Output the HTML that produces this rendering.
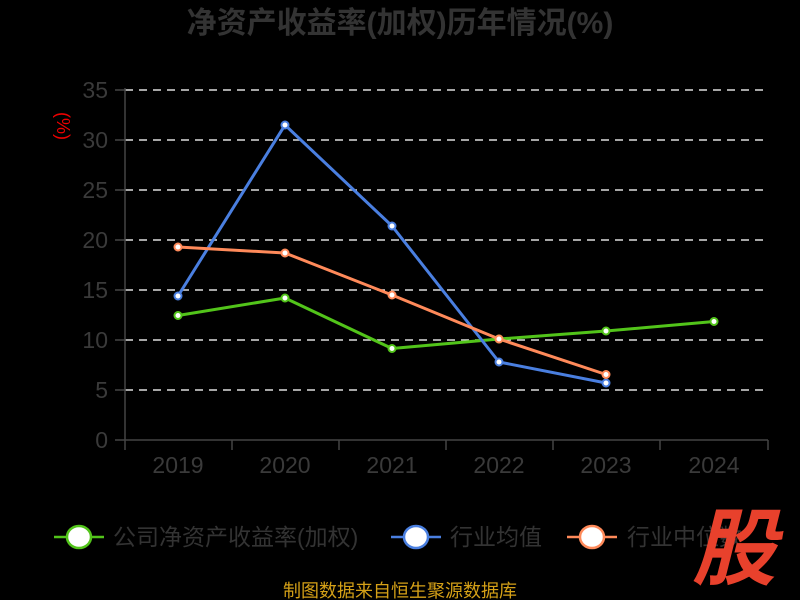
<!DOCTYPE html>
<html><head><meta charset="utf-8"><style>
html,body{margin:0;padding:0;background:#000;}
svg{display:block;font-family:"Liberation Sans","Noto Sans CJK SC",sans-serif;}
</style></head><body>
<svg width="800" height="600" viewBox="0 0 800 600">
<rect width="800" height="600" fill="#000"/>
<text x="400" y="33" text-anchor="middle" font-size="30" font-weight="bold" fill="#333">净资产收益率(加权)历年情况(%)</text>
<g stroke="#ddd" stroke-width="1.5" stroke-dasharray="8,6">
<line x1="125" y1="90" x2="768" y2="90"/><line x1="125" y1="140" x2="768" y2="140"/>
<line x1="125" y1="190" x2="768" y2="190"/><line x1="125" y1="240" x2="768" y2="240"/>
<line x1="125" y1="290" x2="768" y2="290"/><line x1="125" y1="340" x2="768" y2="340"/>
<line x1="125" y1="390" x2="768" y2="390"/>
</g>
<g stroke="#444" stroke-width="1.5">
<line x1="125" y1="88" x2="125" y2="440"/><line x1="125" y1="440" x2="768" y2="440"/>
<line x1="115" y1="90" x2="125" y2="90"/><line x1="115" y1="140" x2="125" y2="140"/><line x1="115" y1="190" x2="125" y2="190"/><line x1="115" y1="240" x2="125" y2="240"/><line x1="115" y1="290" x2="125" y2="290"/><line x1="115" y1="340" x2="125" y2="340"/><line x1="115" y1="390" x2="125" y2="390"/><line x1="115" y1="440" x2="125" y2="440"/>
<line x1="125" y1="440" x2="125" y2="450"/><line x1="232" y1="440" x2="232" y2="450"/><line x1="339" y1="440" x2="339" y2="450"/><line x1="446" y1="440" x2="446" y2="450"/><line x1="553" y1="440" x2="553" y2="450"/><line x1="660" y1="440" x2="660" y2="450"/><line x1="768" y1="440" x2="768" y2="450"/>
</g>
<g font-size="23" fill="#3a3a3a" text-anchor="end">
<text x="108" y="98">35</text><text x="108" y="148">30</text><text x="108" y="198">25</text><text x="108" y="248">20</text><text x="108" y="298">15</text><text x="108" y="348">10</text><text x="108" y="398">5</text><text x="108" y="448">0</text>
</g>
<g font-size="23" fill="#3a3a3a" text-anchor="middle">
<text x="178" y="473">2019</text><text x="285" y="473">2020</text><text x="392" y="473">2021</text><text x="499" y="473">2022</text><text x="606" y="473">2023</text><text x="714" y="473">2024</text>
</g>
<text transform="translate(57,126) rotate(90)" font-size="18" fill="#e00" text-anchor="middle">(%)</text>
<g fill="none" stroke-width="3" stroke-linejoin="round">
<polyline stroke="#52c41a" points="178,315.5 285,298 392,348.5 499,339 606,331 714,321.5"/>
<polyline stroke="#4a7fe0" points="178,296 285,125 392,226 499,362 606,383"/>
<polyline stroke="#ff8a5a" points="178,247 285,253 392,295 499,339 606,374.5"/>
</g>
<g fill="#fff" stroke-width="2">
<g stroke="#52c41a"><circle cx="178" cy="315.5" r="3.5"/><circle cx="285" cy="298" r="3.5"/><circle cx="392" cy="348.5" r="3.5"/><circle cx="499" cy="339" r="3.5"/><circle cx="606" cy="331" r="3.5"/><circle cx="714" cy="321.5" r="3.5"/></g>
<g stroke="#4a7fe0"><circle cx="178" cy="296" r="3.5"/><circle cx="285" cy="125" r="3.5"/><circle cx="392" cy="226" r="3.5"/><circle cx="499" cy="362" r="3.5"/><circle cx="606" cy="383" r="3.5"/></g>
<g stroke="#ff8a5a"><circle cx="178" cy="247" r="3.5"/><circle cx="285" cy="253" r="3.5"/><circle cx="392" cy="295" r="3.5"/><circle cx="499" cy="339" r="3.5"/><circle cx="606" cy="374.5" r="3.5"/></g>
</g>
<g stroke-width="2.5">
<line x1="54" y1="537" x2="104" y2="537" stroke="#52c41a"/><ellipse cx="79" cy="537" rx="12" ry="11" fill="#fff" stroke="#52c41a"/>
<line x1="391" y1="537" x2="441" y2="537" stroke="#4a7fe0"/><ellipse cx="416" cy="537" rx="12" ry="11" fill="#fff" stroke="#4a7fe0"/>
<line x1="567" y1="537" x2="617" y2="537" stroke="#ff8a5a"/><ellipse cx="592" cy="537" rx="12" ry="11" fill="#fff" stroke="#ff8a5a"/>
</g>
<g font-size="23" fill="#333">
<text x="113" y="545">公司净资产收益率(加权)</text>
<text x="450" y="545">行业均值</text>
<text x="627" y="545">行业中位数</text>
</g>
<text x="400" y="597" text-anchor="middle" font-size="18" fill="#d4a017">制图数据来自恒生聚源数据库</text>
<text x="734" y="578" text-anchor="middle" font-size="84" font-weight="bold" fill="#e8412c" font-style="italic">股</text>
</svg>
</body></html>
